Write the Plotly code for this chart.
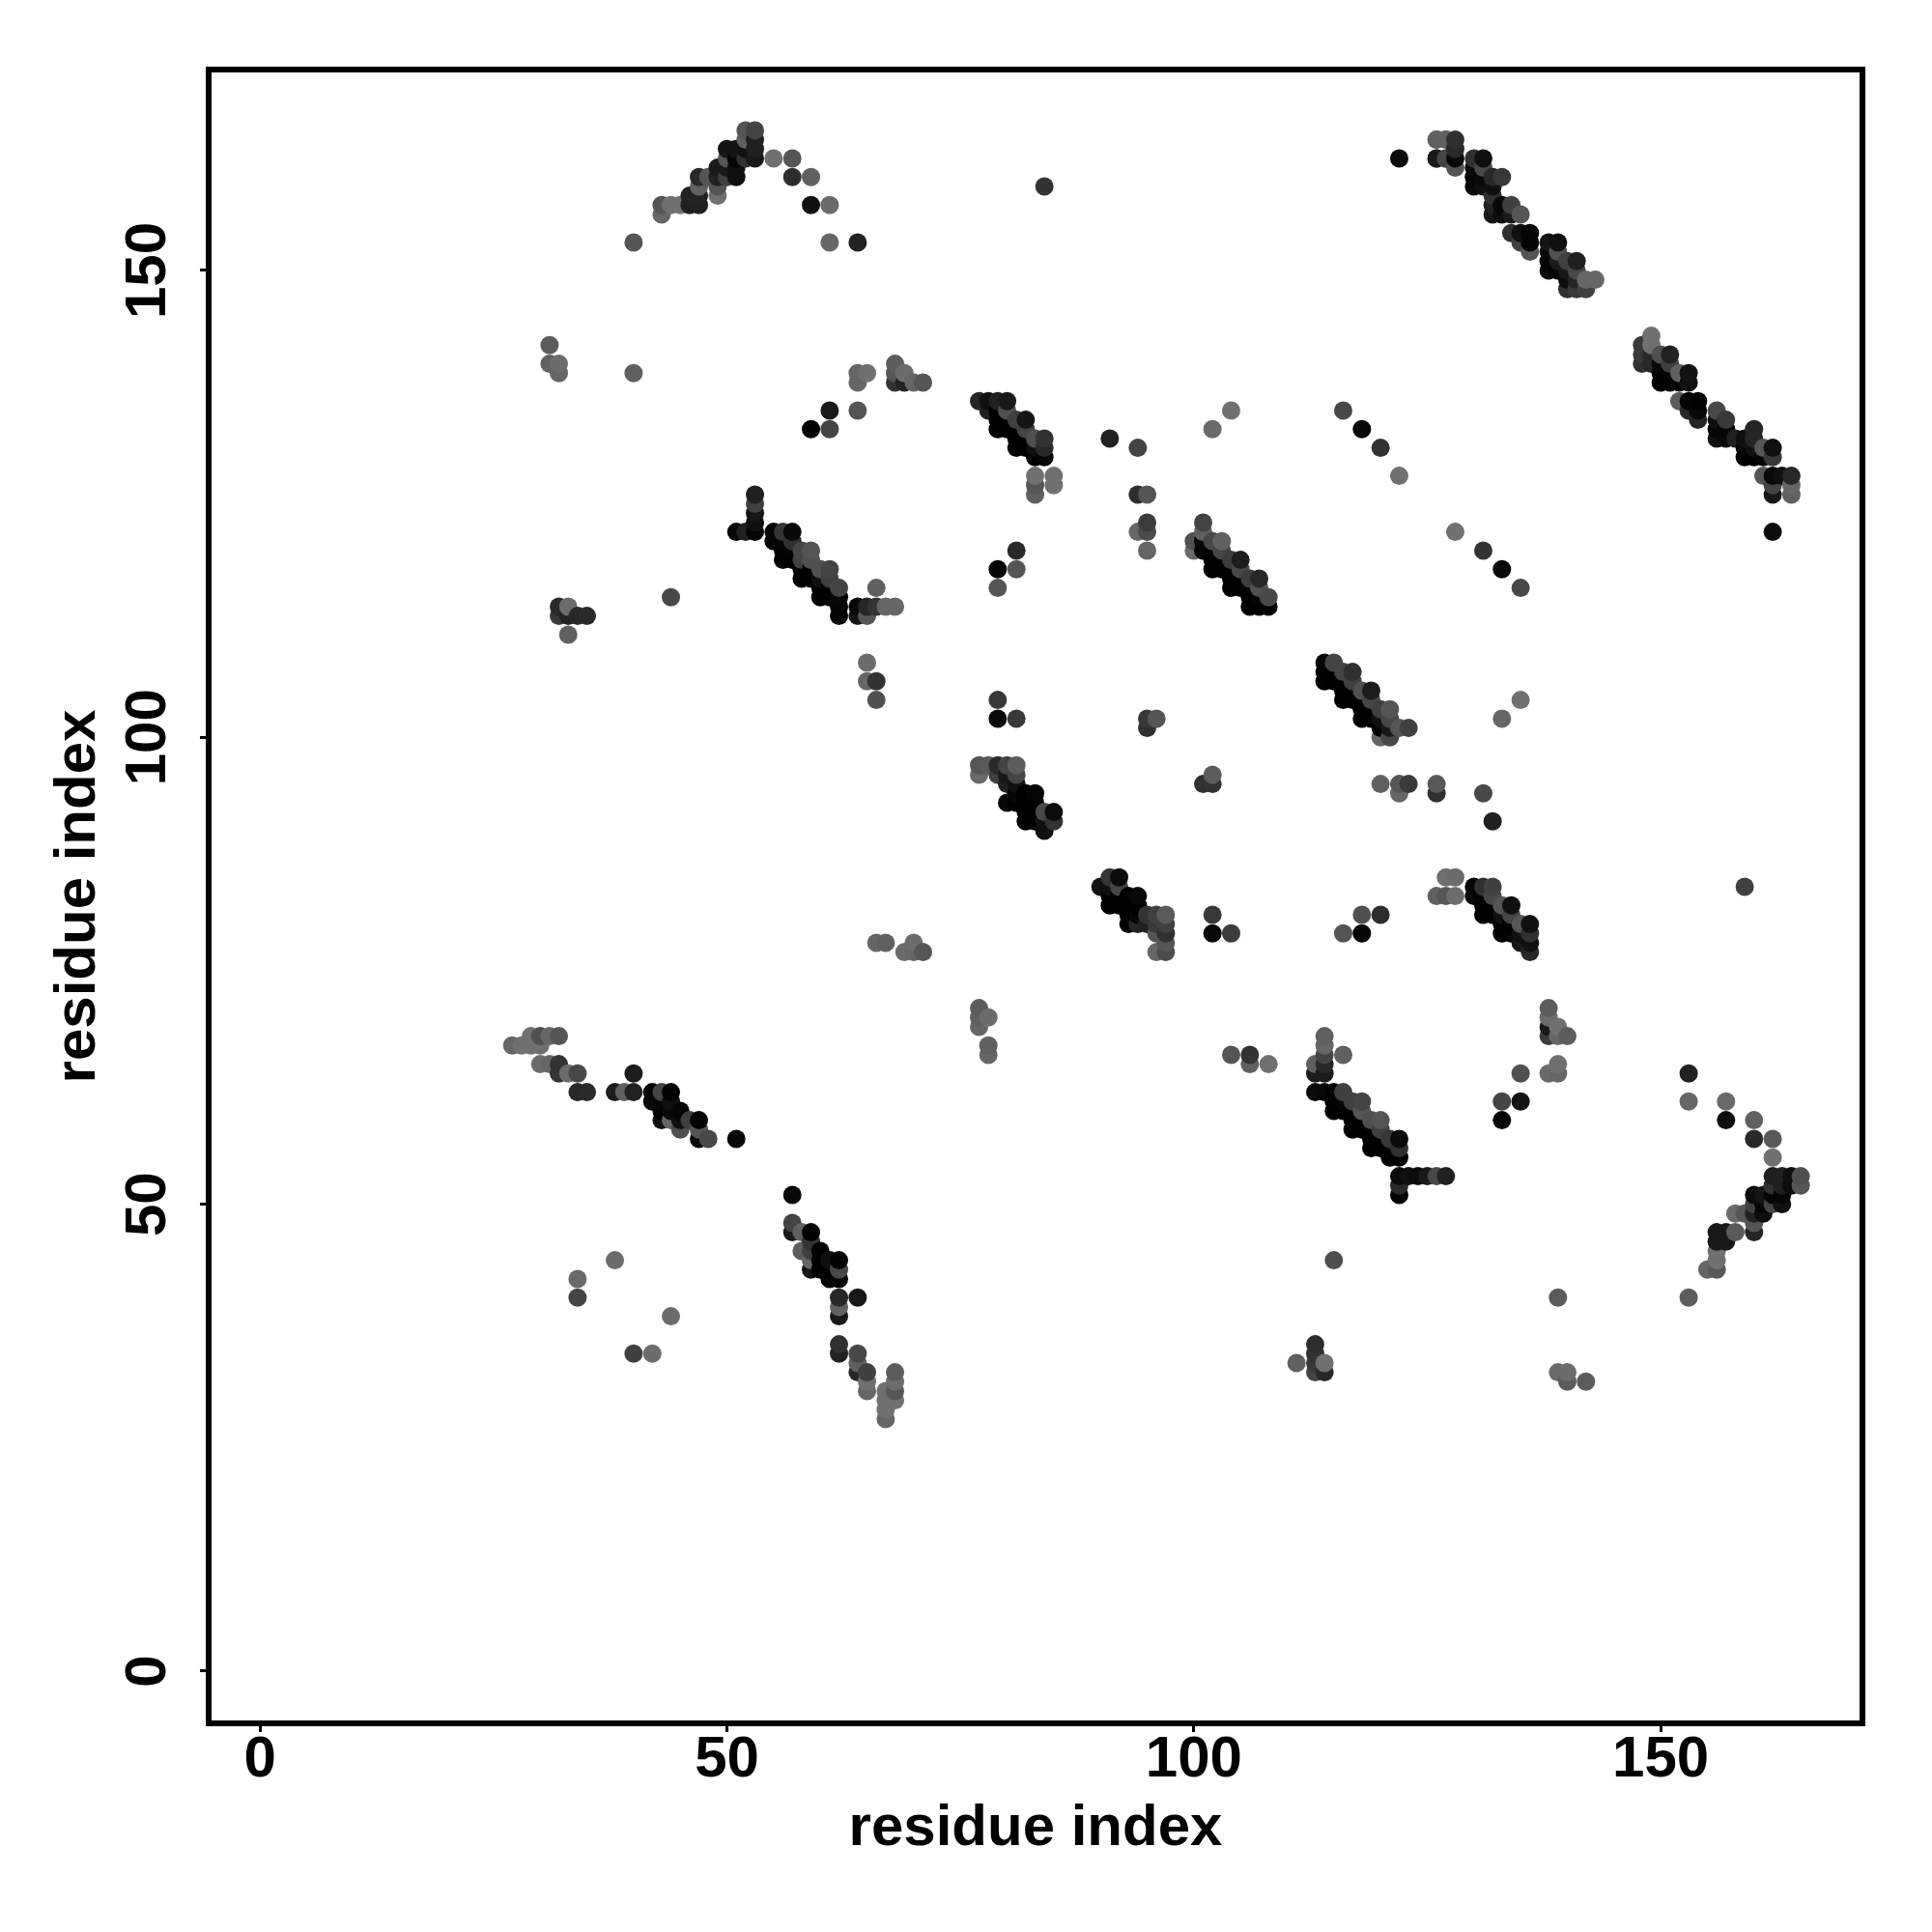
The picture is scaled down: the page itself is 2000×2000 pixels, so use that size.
import plotly.graph_objects as go

# Each contact group: residue x, residue y, grey level (0 = black)
arch_x = [40,43,43,44,45,46,47,46,47,47,47,48,49,49,49,49,50,51,50,51,50,50,51,51,52,52,52,52,53,53,53,53,55,57,57,59,59,61,61,64]
arch_y = [153,156,157,157,157,157,157,158,158,159,160,160,158,159,160,161,160,160,161,161,162,163,163,162,162,163,164,165,162,163,164,165,162,162,160,160,157,157,153,153]
arch_g = [0x55,0x66,0x55,0x70,0x70,0x20,0x20,0x22,0x22,0x60,0x28,0x55,0x70,0x55,0x22,0x1a,0x40,0x10,0x18,0x10,0x55,0x15,0x15,0x05,0x30,0x10,0x60,0x55,0x18,0x20,0x20,0x44,0x70,0x55,0x2d,0x60,0x10,0x6a,0x66,0x22]

mid_x = [31,31,32,32,40,64,65,64,68,68,68,69,69,70,71,61,64,59,61]
mid_y = [142,140,140,139,139,139,139,138,140,139,138,139,138,138,138,135,135,133,133]
mid_g = [0x5c,0x60,0x6c,0x66,0x60,0x66,0x70,0x66,0x5c,0x55,0x33,0x6c,0x22,0x66,0x55,0x1a,0x55,0x03,0x44]

helix1_x = [53,53,53,53,53,51,52,55,56,57,55,56,57,56,57,58,59,56,57,58,59,58,59,60,61,58,59,60,61,60,61,62,60,61,62,62,62,64,65,66,67,68,64,65,66]
helix1_y = [126,125,124,123,122,122,122,122,122,122,121,121,121,120,120,120,120,119,119,119,119,118,118,118,118,117,117,117,117,116,116,116,115,115,115,114,113,114,114,114,114,114,113,113,116]
helix1_g = [0x20,0x40,0x15,0x10,0x05,0x08,0x20,0x05,0x35,0x08,0x05,0x05,0x30,0x02,0x02,0x45,0x55,0x00,0x00,0x40,0x50,0x00,0x00,0x50,0x44,0x00,0x00,0x10,0x40,0x00,0x00,0x44,0x00,0x00,0x08,0x05,0x05,0x08,0x25,0x33,0x66,0x66,0x15,0x55,0x60]

left114_x = [32,33,32,33,34,35,33,44,65,65,66,66,66,67,70,69,70,71]
left114_y = [114,114,113,113,113,113,111,115,108,106,106,104,78,78,78,77,77,77]
left114_g = [0x2a,0x6c,0x38,0x22,0x28,0x2a,0x60,0x48,0x6c,0x66,0x33,0x50,0x66,0x60,0x6c,0x6a,0x66,0x55]

single_x = [84,122,126,127,126,127]
single_y = [159,162,164,164,162,162]
single_g = [0x33,0x0a,0x66,0x66,0x18,0x44]

helix2_x = [77,78,79,80,78,79,80,79,80,81,82,79,80,81,82,81,82,83,84,81,82,83,84,83,84,83,85,83,85,83]
helix2_y = [136,136,136,136,135,135,135,134,134,134,134,133,133,133,133,132,132,132,132,131,131,131,131,130,130,128,128,127,127,126]
helix2_g = [0x25,0x10,0x20,0x18,0x20,0x02,0x50,0x00,0x00,0x40,0x15,0x00,0x00,0x00,0x44,0x00,0x00,0x50,0x33,0x00,0x00,0x10,0x28,0x00,0x05,0x70,0x70,0x55,0x70,0x60]

scatter_x = [91,94,104,102,116,118,120,122,94,95,95,94,95,95,81,79,81,79,79,79,81,95,95,96,159,131,132]
scatter_y = [132,131,135,133,135,133,131,128,126,126,123,122,122,120,120,118,118,116,104,102,102,101,102,102,84,94,91]
scatter_g = [0x22,0x44,0x70,0x6a,0x48,0x08,0x33,0x70,0x2e,0x55,0x3c,0x66,0x4c,0x66,0x2a,0x05,0x55,0x55,0x38,0x0a,0x38,0x30,0x38,0x55,0x40,0x48,0x20]

helix3_x = [101,101,100,100,101,101,102,103,102,103,102,102,103,103,104,105,104,105,104,104,105,105,106,107,106,107,108,106,107,108,106,107]
helix3_y = [123,122,121,120,121,120,121,121,120,120,118,119,119,118,119,119,118,118,116,117,117,116,117,117,116,116,115,114,114,114,115,115]
helix3_g = [0x44,0x60,0x50,0x6a,0x08,0x05,0x48,0x60,0x02,0x45,0x00,0x00,0x00,0x00,0x3c,0x1c,0x00,0x48,0x00,0x00,0x00,0x00,0x3c,0x28,0x00,0x50,0x48,0x00,0x00,0x02,0x00,0x05]

helix4_x = [114,115,114,114,115,115,116,117,116,116,116,117,117,117,118,119,118,119,118,118,119,119,120,121,120,121,120,121,122,123,120,121]
helix4_y = [108,108,107,106,107,106,107,107,106,105,104,106,105,104,105,105,104,104,103,102,103,102,103,103,102,102,101,101,101,101,100,100]
helix4_g = [0x05,0x44,0x00,0x02,0x00,0x00,0x44,0x30,0x00,0x00,0x00,0x40,0x00,0x00,0x50,0x1c,0x00,0x45,0x00,0x00,0x00,0x00,0x40,0x55,0x10,0x48,0x00,0x18,0x55,0x40,0x66,0x48]

helix5_x = [77,78,79,80,81,77,79,80,81,80,81,80,81,81,82,83,82,82,82,83,83,83,84,85,84,85,84]
helix5_y = [97,97,97,97,97,96,96,96,96,95,95,93,94,93,94,94,93,92,91,93,92,91,92,92,91,91,90]
helix5_g = [0x55,0x5a,0x2a,0x44,0x5c,0x6a,0x40,0x18,0x44,0x20,0x10,0x08,0x05,0x00,0x00,0x05,0x00,0x00,0x00,0x00,0x00,0x00,0x48,0x0c,0x10,0x33,0x10]

row95_x = [102,101,102,120,122,123,122,126,126]
row95_y = [96,95,95,95,95,95,94,95,94]
row95_g = [0x5c,0x30,0x33,0x60,0x55,0x3a,0x66,0x58,0x30]

helix6_x = [91,92,90,91,92,91,92,93,94,91,92,93,94,93,93,94,94,95,96,97,95,96,97,96,97,96,97,97]
helix6_y = [85,85,84,84,84,83,83,83,83,82,82,82,82,81,80,81,80,81,81,81,80,80,80,79,79,77,77,78]
helix6_g = [0x35,0x0c,0x12,0x10,0x45,0x00,0x00,0x00,0x08,0x00,0x00,0x00,0x00,0x00,0x00,0x05,0x25,0x33,0x40,0x5a,0x20,0x38,0x40,0x55,0x30,0x66,0x4c,0x55]

row80_x = [102,102,104,116,118,118,120]
row80_y = [81,79,79,79,79,81,81]
row80_g = [0x38,0x08,0x3c,0x55,0x05,0x50,0x2d]

strand1_x = [32,31,30,29,29,30,28,27,30,31,32,32,33,34,34,35,38,39,40,40,42,43,44,42,43,44,43,43,44,44,45,45,45,46,47,47,47,48,51]
strand1_y = [68,68,68,68,67,67,67,67,65,65,65,64,64,64,62,62,62,62,62,64,62,62,62,61,61,61,60,59,60,59,60,59,58,59,59,58,57,57,57]
strand1_g = [0x55,0x66,0x50,0x70,0x70,0x70,0x70,0x66,0x6c,0x66,0x33,0x33,0x6c,0x48,0x28,0x2a,0x1c,0x60,0x22,0x1c,0x05,0x44,0x03,0x0a,0x05,0x10,0x00,0x10,0x08,0x66,0x05,0x10,0x50,0x40,0x03,0x55,0x0a,0x48,0x08]

strand2_x = [57,57,57,58,59,58,59,59,59,59,60,60,60,61,62,61,61,62,62,62,64,62,62,62,62,64,64,64,65,65,65,68,68,68,68,67,67,67,67]
strand2_y = [51,48,47,47,47,45,46,45,44,43,45,44,43,44,44,43,42,43,42,40,40,39,38,35,34,34,33,32,32,31,30,32,31,30,29,30,29,28,27]
strand2_g = [0x08,0x44,0x1a,0x60,0x03,0x5c,0x33,0x40,0x66,0x15,0x02,0x02,0x00,0x10,0x02,0x00,0x05,0x48,0x05,0x28,0x18,0x60,0x18,0x30,0x22,0x48,0x60,0x28,0x40,0x70,0x66,0x5c,0x6c,0x55,0x70,0x70,0x70,0x70,0x66]

lower_x = [38,34,34,44,40,42,77,77,77,78,78,78,104,106,106,108]
lower_y = [44,42,40,38,34,34,71,70,69,70,67,66,66,66,65,65]
lower_g = [0x6c,0x6a,0x44,0x6c,0x40,0x6c,0x5c,0x60,0x66,0x6c,0x60,0x66,0x55,0x33,0x60,0x70]

helix7_x = [114,114,114,113,114,113,114,116,113,114,115,116,115,116,117,118,115,116,117,118,117,118,119,120,117,118,119,120,119,120,121,122,119,120,121,122,121,122,122,123,124,125,126,127,122,122]
helix7_y = [68,67,66,65,65,64,64,66,62,62,62,62,61,61,61,61,60,60,60,60,59,59,59,59,58,58,58,58,57,57,57,57,56,56,56,56,55,55,53,53,53,53,53,53,52,51]
helix7_g = [0x60,0x66,0x44,0x60,0x28,0x1c,0x1c,0x60,0x0c,0x08,0x02,0x40,0x00,0x05,0x40,0x44,0x00,0x00,0x00,0x55,0x00,0x00,0x50,0x55,0x00,0x00,0x00,0x40,0x00,0x00,0x38,0x0a,0x00,0x00,0x00,0x30,0x00,0x02,0x0a,0x10,0x0c,0x1a,0x48,0x20,0x2a,0x05]

small_x = [115,113,113,113,111,114,113,114]
small_y = [44,35,34,33,33,33,32,32]
small_g = [0x50,0x2d,0x33,0x38,0x60,0x70,0x44,0x28]

right68_x = [138,138,138,138,139,139,140,139,138,139,135,133,135,133,139,153,139,140,140,142]
right68_y = [71,70,69,68,69,68,68,65,64,64,64,61,61,59,40,40,32,32,31,31]
right68_g = [0x5c,0x6c,0x18,0x3c,0x70,0x66,0x5c,0x70,0x6a,0x66,0x50,0x44,0x14,0x03,0x5c,0x5c,0x6a,0x6c,0x5c,0x5c]

arc_x = [153,153,157,157,160,160,162,162,162,163,164,165,163,164,165,162,160,161,162,163,160,161,162,163,158,159,160,161,160,156,157,158,160,156,157,156,156,155,156]
arc_y = [64,61,61,59,59,57,57,55,53,53,53,53,52,52,52,52,51,51,51,51,50,50,50,50,49,49,49,49,48,47,47,47,47,46,46,45,44,43,43]
arc_g = [0x22,0x66,0x6a,0x0c,0x60,0x28,0x58,0x70,0x1e,0x20,0x10,0x50,0x20,0x0c,0x55,0x30,0x0c,0x15,0x05,0x05,0x40,0x05,0x45,0x10,0x6a,0x55,0x22,0x0c,0x55,0x18,0x18,0x5a,0x25,0x18,0x18,0x70,0x70,0x66,0x58]

upper1_x = [126,127,128,128,126,127,128,128,130,131,130,131,130,131,132,133,130,131,132,132,132,133,134,132,133,134,135,134,135,136,135,136,136]
upper1_y = [164,164,164,163,162,162,162,161,162,162,161,161,160,160,160,160,159,159,159,158,157,157,157,156,156,156,156,154,154,154,153,153,152]
upper1_g = [0x60,0x60,0x30,0x28,0x18,0x44,0x08,0x55,0x30,0x10,0x0c,0x48,0x05,0x08,0x28,0x38,0x08,0x10,0x10,0x30,0x20,0x08,0x40,0x18,0x0c,0x1a,0x55,0x30,0x10,0x05,0x40,0x05,0x55]

upper2_x = [138,139,138,139,138,139,140,141,138,139,140,141,140,141,142,143,140,141,142]
upper2_y = [153,153,152,152,151,151,151,151,150,150,150,150,149,149,149,149,148,148,148]
upper2_g = [0x15,0x10,0x08,0x50,0x05,0x18,0x40,0x20,0x08,0x05,0x18,0x48,0x0c,0x25,0x66,0x66,0x30,0x38,0x40]

upper3_x = [149,149,148,148,148,149,149,150,151,150,151,150,150,151,151,152,153,152,153,152,153,154,153,154,154,156,157,156,156,156,157,157,158,159,159,159,160,160,160,160,161,161,162,162,161,162,163,164,162,162,164,164,162]
upper3_y = [143,142,142,141,140,141,140,141,141,140,140,139,138,139,138,139,139,138,138,136,136,136,135,135,134,135,134,134,133,132,133,132,132,132,131,130,133,132,131,130,131,130,131,130,128,128,128,128,127,126,127,126,122]
upper3_g = [0x70,0x70,0x38,0x38,0x30,0x28,0x28,0x50,0x22,0x08,0x40,0x00,0x00,0x03,0x00,0x60,0x14,0x05,0x10,0x5c,0x05,0x02,0x28,0x08,0x25,0x48,0x38,0x10,0x05,0x10,0x05,0x08,0x20,0x10,0x08,0x00,0x25,0x25,0x10,0x00,0x55,0x05,0x10,0x38,0x55,0x08,0x10,0x28,0x44,0x18,0x66,0x60,0x0c]

helix8_x = [127,128,126,127,128,130,131,132,130,131,132,131,132,133,134,131,132,133,134,133,134,135,136,133,134,135,136,135,136,136]
helix8_y = [85,85,83,83,83,84,84,84,83,83,83,82,82,82,82,81,81,81,81,80,80,80,80,79,79,79,79,78,78,77]
helix8_g = [0x70,0x6c,0x60,0x55,0x6c,0x05,0x30,0x40,0x08,0x03,0x48,0x00,0x00,0x55,0x10,0x00,0x00,0x10,0x45,0x00,0x00,0x55,0x10,0x00,0x02,0x10,0x30,0x18,0x10,0x28]

far_x = [128,131,133,135,135,133]
far_y = [122,120,118,116,104,102]
far_g = [0x70,0x33,0x08,0x48,0x70,0x66]

tick_vals = [0, 50, 100, 150]
tick_text = ["0", "50", "100", "150"]
axis_label = "residue index"

all_x = (arch_x + mid_x + helix1_x + left114_x + single_x + helix2_x + scatter_x + helix3_x + helix4_x + helix5_x
         + row95_x + helix6_x + row80_x + strand1_x + strand2_x + lower_x + helix7_x + small_x + right68_x + arc_x
         + upper1_x + upper2_x + upper3_x + helix8_x + far_x)
all_y = (arch_y + mid_y + helix1_y + left114_y + single_y + helix2_y + scatter_y + helix3_y + helix4_y + helix5_y
         + row95_y + helix6_y + row80_y + strand1_y + strand2_y + lower_y + helix7_y + small_y + right68_y + arc_y
         + upper1_y + upper2_y + upper3_y + helix8_y + far_y)
all_g = (arch_g + mid_g + helix1_g + left114_g + single_g + helix2_g + scatter_g + helix3_g + helix4_g + helix5_g
         + row95_g + helix6_g + row80_g + strand1_g + strand2_g + lower_g + helix7_g + small_g + right68_g + arc_g
         + upper1_g + upper2_g + upper3_g + helix8_g + far_g)

points = sorted(zip(all_x, all_y, all_g), key=lambda p: (p[0], p[1]))
xs = [p[0] for p in points]
ys = [p[1] for p in points]
cols = [f"rgb({p[2]},{p[2]},{p[2]})" for p in points]

FONT = "Liberation Sans"
fig = go.Figure(go.Scatter(
    x=xs, y=ys, mode="markers",
    marker=dict(size=19, color=cols, line=dict(width=0)),
    hoverinfo="x+y", showlegend=False,
))
axis = dict(
    tickmode="array", tickvals=tick_vals, ticktext=tick_text,
    showgrid=False, zeroline=False, showline=True, mirror=True,
    linecolor="black", linewidth=6, ticks="outside", ticklen=6, tickwidth=3, tickcolor="black",
    tickfont=dict(family=FONT, size=60, color="black", weight="bold"),
    automargin=False,
)
fig.update_layout(
    width=2000, height=2000, autosize=False,
    paper_bgcolor="white", plot_bgcolor="white",
    margin=dict(l=211, r=83, t=67, b=227, pad=0),
    showlegend=False,
    xaxis=dict(axis, range=[-5.20, 171.3], ticklabelstandoff=-26,
               title=dict(text=axis_label, font=dict(family=FONT, size=60, color="black", weight="bold"), standoff=19)),
    yaxis=dict(axis, range=[-5.28, 171.2], tickangle=-90, ticklabelstandoff=12, ticklabelshift=9,
               title=dict(text=axis_label, font=dict(family=FONT, size=60, color="black", weight="bold"), standoff=1)),
)
fig.write_html("out.html")
